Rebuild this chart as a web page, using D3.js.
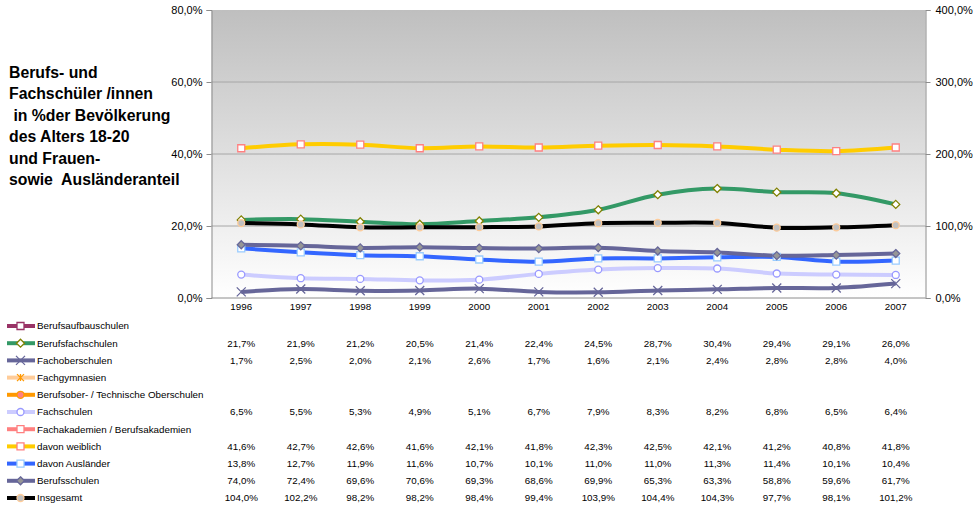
<!DOCTYPE html>
<html><head><meta charset="utf-8">
<script src="https://cdn.jsdelivr.net/npm/d3@7"></script>
<style>
body{margin:0;background:#fff;}
svg{display:block;font-family:"Liberation Sans",Arial,sans-serif;}
</style></head>
<body><svg id="c" width="977" height="510"></svg>
<script>
const years = ["1996","1997","1998","1999","2000","2001","2002","2003","2004","2005","2006","2007"];
const berufsaufbauschulen = [null,null,null,null,null,null,null,null,null,null,null,null];
const berufsfachschulen = [21.7,21.9,21.2,20.5,21.4,22.4,24.5,28.7,30.4,29.4,29.1,26.0];
const fachoberschulen = [1.7,2.5,2.0,2.1,2.6,1.7,1.6,2.1,2.4,2.8,2.8,4.0];
const fachgymnasien = [null,null,null,null,null,null,null,null,null,null,null,null];
const berufsober = [null,null,null,null,null,null,null,null,null,null,null,null];
const fachschulen = [6.5,5.5,5.3,4.9,5.1,6.7,7.9,8.3,8.2,6.8,6.5,6.4];
const fachakademien = [null,null,null,null,null,null,null,null,null,null,null,null];
const davonWeiblich = [41.6,42.7,42.6,41.6,42.1,41.8,42.3,42.5,42.1,41.2,40.8,41.8];
const davonAuslaender = [13.8,12.7,11.9,11.6,10.7,10.1,11.0,11.0,11.3,11.4,10.1,10.4];
const berufsschulen = [74.0,72.4,69.6,70.6,69.3,68.6,69.9,65.3,63.3,58.8,59.6,61.7];
const insgesamt = [104.0,102.2,98.2,98.2,98.4,99.4,103.9,104.4,104.3,97.7,98.1,101.2];
const leftTicks = [0,20,40,60,80];
const rightTicks = [0,100,200,300,400];
const titleLines = ["Berufs- und","Fachschüler /innen"," in %der Bevölkerung","des Alters 18-20","und Frauen-","sowie  Ausländeranteil"];

const series = [
 {name:"Berufsaufbauschulen", values:berufsaufbauschulen, axis:"L", color:"#993366", marker:"square", mfill:"#fff", mstroke:"#993366"},
 {name:"Berufsfachschulen", values:berufsfachschulen, axis:"L", color:"#339966", marker:"diamond", mfill:"#fff", mstroke:"#808000"},
 {name:"Fachoberschulen", values:fachoberschulen, axis:"L", color:"#666699", marker:"x", mfill:"none", mstroke:"#666699"},
 {name:"Fachgymnasien", values:fachgymnasien, axis:"L", color:"#FFCC99", marker:"star", mfill:"none", mstroke:"#FF9900"},
 {name:"Berufsober- / Technische Oberschulen", values:berufsober, axis:"L", color:"#FF9900", marker:"circle", mfill:"#FF8080", mstroke:"#FF9900"},
 {name:"Fachschulen", values:fachschulen, axis:"L", color:"#CCCCFF", marker:"circle", mfill:"#fff", mstroke:"#9999FF"},
 {name:"Fachakademien / Berufsakademien", values:fachakademien, axis:"L", color:"#FF8080", marker:"square", mfill:"#fff", mstroke:"#FF8080"},
 {name:"davon weiblich", values:davonWeiblich, axis:"L", color:"#FFCC00", marker:"square", mfill:"#fff", mstroke:"#FF8080"},
 {name:"davon Ausländer", values:davonAuslaender, axis:"L", color:"#3366FF", marker:"square", mfill:"#fff", mstroke:"#99CCFF"},
 {name:"Berufsschulen", values:berufsschulen, axis:"R", color:"#666699", marker:"diamond", mfill:"#969696", mstroke:"#666699"},
 {name:"Insgesamt", values:insgesamt, axis:"R", color:"#000000", marker:"circle", mfill:"#C0C0C0", mstroke:"#FFCC99"}
];

const svg = d3.select("#c");
const L = 211.5, R = 925.5, T = 10, B = 298;
const x = d3.scaleBand().domain(years).range([L,R]);
const yL = d3.scaleLinear().domain([0,80]).range([B,T]);
const yR = d3.scaleLinear().domain([0,400]).range([B,T]);
const fmt = v => v.toFixed(1).replace(".",",")+"%";

const defs = svg.append("defs");
const g = defs.append("linearGradient").attr("id","bg").attr("x1",0).attr("y1",0).attr("x2",0).attr("y2",1);
g.append("stop").attr("offset","0%").attr("stop-color","#bfbfbf");
g.append("stop").attr("offset","100%").attr("stop-color","#ffffff");

svg.append("rect").attr("x",L).attr("y",T).attr("width",R-L).attr("height",B-T).attr("fill","url(#bg)");

svg.append("g").selectAll("line").data(leftTicks.filter(d=>d>0 && d<80)).join("line")
 .attr("x1",L).attr("x2",R).attr("y1",d=>yL(d)).attr("y2",d=>yL(d))
 .attr("stroke","#a6a6a6").attr("stroke-width",1);

const axL = svg.append("g").attr("transform",`translate(${L},0)`)
 .call(d3.axisLeft(yL).tickValues(leftTicks).tickFormat(fmt).tickSize(5).tickPadding(4));
const axR = svg.append("g").attr("transform",`translate(${R},0)`)
 .call(d3.axisRight(yR).tickValues(rightTicks).tickFormat(fmt).tickSize(5).tickPadding(5));
[axL,axR].forEach(a=>{
 a.select(".domain").attr("stroke","#8c8c8c");
 a.selectAll(".tick line").attr("stroke","#8c8c8c");
 a.selectAll(".tick text").attr("font-size","11px").attr("fill","#000").attr("font-family","Liberation Sans, Arial, sans-serif");
});
svg.append("line").attr("x1",L).attr("x2",R).attr("y1",B).attr("y2",B).attr("stroke","#8c8c8c");

svg.append("g").selectAll("text").data(years).join("text")
 .attr("x",d=>x(d)+x.bandwidth()/2).attr("y",307).attr("dy","0.35em")
 .attr("text-anchor","middle").attr("font-size","9.8px").text(d=>d);

const line = ys => d3.line().defined(d=>d.v!=null).x(d=>x(d.c)+x.bandwidth()/2).y(d=>ys(d.v)).curve(d3.curveCatmullRom.alpha(0.5));
function markerPath(type, s){
 const h = s/2;
 if(type==="square") return `M${-h},${-h}H${h}V${h}H${-h}Z`;
 if(type==="diamond") return `M0,${-h-0.5}L${h+0.5},0L0,${h+0.5}L${-h-0.5},0Z`;
 if(type==="x") return `M${-h-1},${-h-1}L${h+1},${h+1}M${-h-1},${h+1}L${h+1},${-h-1}`;
 if(type==="star") return `M${-h},${-h}L${h},${h}M${-h},${h}L${h},${-h}M0,${-h}V${h}`;
 return null;
}
function drawMarker(sel, s, size){
 if(s.marker==="circle"){
  sel.append("circle").attr("r",size/2).attr("fill",s.mfill).attr("stroke",s.mstroke).attr("stroke-width",1.3);
 } else {
  sel.append("path").attr("d",markerPath(s.marker,size)).attr("fill",s.mfill).attr("stroke",s.mstroke).attr("stroke-width",s.marker==="x"||s.marker==="star"?1.3:1.3);
 }
}
const plot = svg.append("g");
series.forEach(s=>{
 const ys = s.axis==="L"?yL:yR;
 const pts = years.map((c,i)=>({c,v:s.values[i]})).filter(d=>d.v!=null);
 if(!pts.length) return;
 plot.append("path").datum(pts).attr("d",line(ys)).attr("fill","none").attr("stroke",s.color).attr("stroke-width",4).attr("stroke-linejoin","round");
});
series.forEach(s=>{
 const ys = s.axis==="L"?yL:yR;
 years.forEach((c,i)=>{
  if(s.values[i]==null) return;
  const m = plot.append("g").attr("transform",`translate(${x(c)+x.bandwidth()/2},${ys(s.values[i])})`);
  drawMarker(m,s,7);
 });
});

const rowY0 = 326, rowStep = 17.2;
series.forEach((s,k)=>{
 const yy = rowY0 + k*rowStep;
 const gr = svg.append("g");
 gr.append("line").attr("x1",7).attr("x2",35).attr("y1",yy).attr("y2",yy).attr("stroke",s.color).attr("stroke-width",4);
 const m = gr.append("g").attr("transform",`translate(20.5,${yy})`);
 drawMarker(m,s,7);
 gr.append("text").attr("x",37).attr("y",yy).attr("dy","0.35em").attr("font-size","9.8px").text(s.name);
 gr.selectAll("text.v").data(years.map((c,i)=>({c,v:s.values[i]})).filter(d=>d.v!=null)).join("text").attr("class","v")
  .attr("x",d=>x(d.c)+x.bandwidth()/2).attr("y",yy).attr("dy","0.35em").attr("text-anchor","middle").attr("font-size","9.8px")
  .text(d=>fmt(d.v));
});

svg.append("g").selectAll("text").data(titleLines).join("text")
 .attr("x",9).attr("y",(d,i)=>72+i*21.5).attr("dy","0.35em")
 .attr("font-size","15.8px").attr("font-weight","bold").style("white-space","pre").attr("xml:space","preserve")
 .text(d=>d);
</script></body></html>
